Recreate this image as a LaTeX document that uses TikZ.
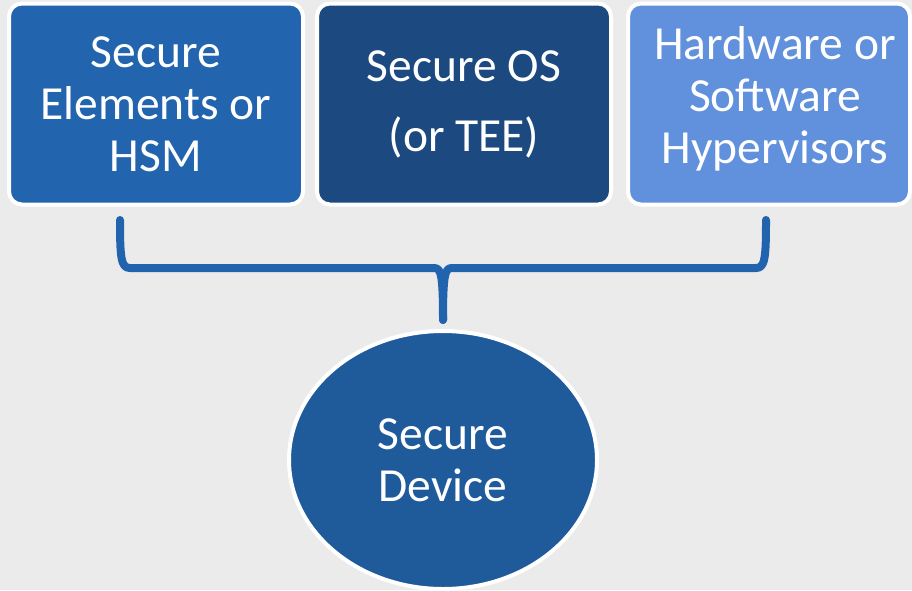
\documentclass[tikz,border=0pt]{standalone}
\usepackage{fontspec}
\setmainfont{Carlito}
\usetikzlibrary{shapes.geometric}
\definecolor{bgc}{HTML}{EBEBEB}
\definecolor{mainblue}{HTML}{2264AE}
\definecolor{darkblue}{HTML}{1C4A80}
\definecolor{lightblue}{HTML}{6190DC}
\definecolor{deviceblue}{HTML}{1F5A9B}
\definecolor{bracecol}{HTML}{2163AD}
\tikzset{
  card/.style={rectangle, rounded corners=13pt, draw=white, line width=4pt,
    minimum width=294pt, minimum height=201pt, text=white, align=center,
    inner sep=0pt, font=\fontsize{47.5}{52}\selectfont},
  devicenode/.style={ellipse, draw=white, line width=4pt, fill=deviceblue,
    minimum width=308pt, minimum height=258pt, text=white, align=center,
    inner sep=0pt, font=\fontsize{47.5}{52}\selectfont},
  bracket/.style={draw=bracecol, line width=8pt, line cap=round, line join=round}
}
\begin{document}
\begin{tikzpicture}[x=1pt, y=-1pt]
  \fill[bgc] (0,0) rectangle (912,590);
  \useasboundingbox (0,0) rectangle (912,590);

  % three building blocks
  \node[card, fill=mainblue] (se) at (156,104) {Secure\\Elements or\\HSM};
  \node[card, fill=darkblue] (tee) at (464,104) {Secure OS\\[18pt](or TEE)};
  \node[card, fill=lightblue, minimum width=282pt] (hyp) at (769,104) {};
  \node[text=white, align=center, inner sep=0pt,
    font=\fontsize{47.5}{52}\selectfont] (hyptext) at (775,99)
    {Hardware or\\Software\\Hypervisors};

  % the resulting device
  \node[devicenode] (dev) at (443,460) {Secure\\Device};

  % curly bracket gathering the blocks
  \coordinate (bl) at (120,220);
  \coordinate (br) at (766,220);
  \coordinate (tip) at (443,320);
  \draw[bracket] (bl) .. controls (120,258) and (121,268) .. (130,268)
    -- (434,268) .. controls (441,268) and (443,274) .. (tip);
  \draw[bracket] (br) .. controls (766,258) and (765,268) .. (756,268)
    -- (452,268) .. controls (445,268) and (443,274) .. (tip);
\end{tikzpicture}
\end{document}
